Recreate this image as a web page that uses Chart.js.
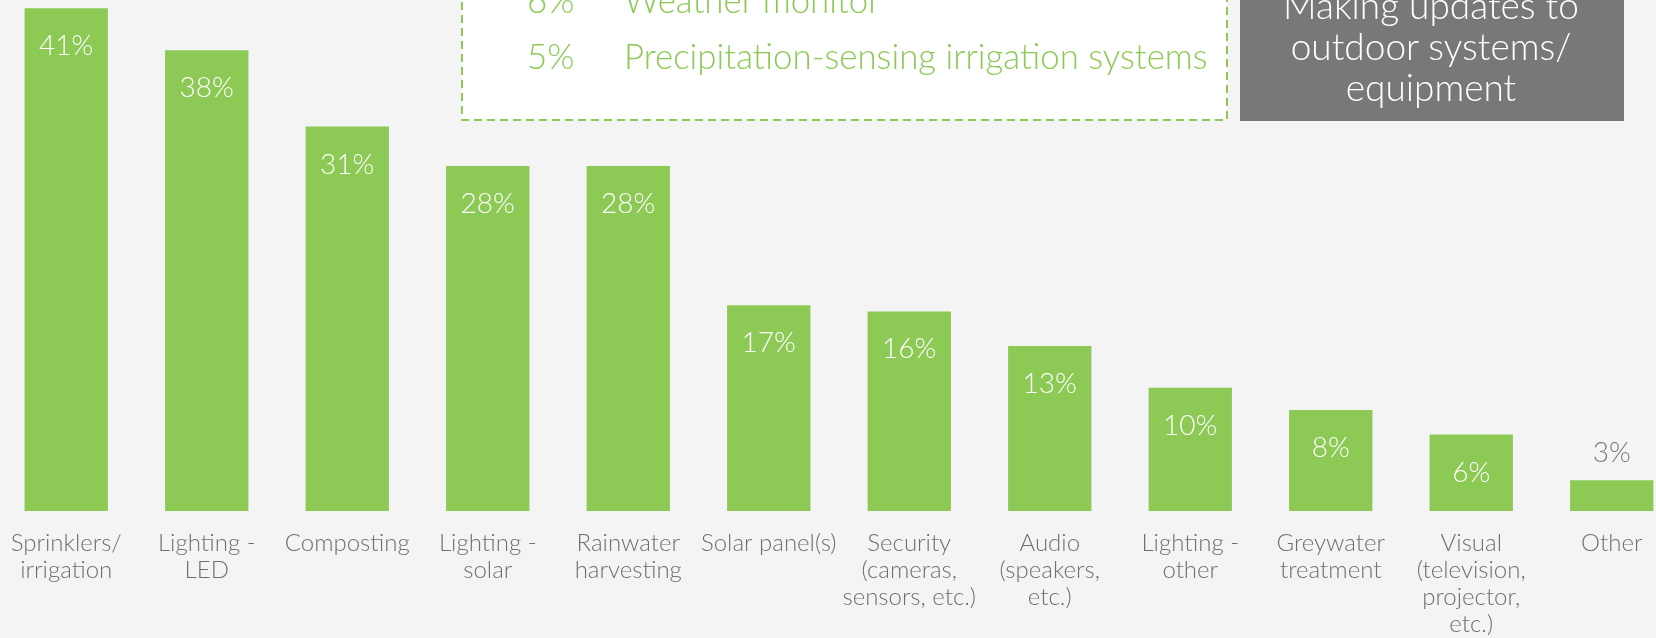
<!DOCTYPE html>
<html>
<head>
<meta charset="utf-8">
<script src="https://cdn.jsdelivr.net/npm/chart.js@4"></script>
<style>
  html, body { margin: 0; padding: 0; background: #f4f4f4; overflow: hidden; }
  body { width: 1656px; height: 638px; position: relative; }
  #wrap { position: absolute; left: -4px; top: 0; width: 1686px; height: 638px; }
  #notes { position: absolute; left: 0; top: 0; width: 1656px; height: 638px; pointer-events: none; }
  #notes text { font-family: Lato, "Open Sans", sans-serif; font-weight: 300; }
</style>
</head>
<body>
<div id="wrap"><canvas id="chart"></canvas></div>

<!-- callouts at the top, partly cut off by the frame -->
<svg id="notes" width="1656" height="638">
  <rect x="462" y="-60" width="765" height="180" fill="#ffffff" stroke="#8cc955" stroke-width="2" stroke-dasharray="8 5"/>
  <text x="527" y="13" font-size="34.8" fill="#8cc955">6%</text>
  <text x="624" y="13" font-size="34.8" fill="#8cc955">Weather monitor</text>
  <text x="527" y="69" font-size="34.8" fill="#8cc955">5%</text>
  <text x="624" y="69" font-size="34.8" fill="#8cc955">Precipitation-sensing irrigation systems</text>

  <rect x="1240" y="-60" width="384" height="181" fill="#787878"/>
  <text x="1431" y="19" font-size="37" fill="#ffffff" text-anchor="middle">Making updates to</text>
  <text x="1431" y="60" font-size="37" fill="#ffffff" text-anchor="middle">outdoor systems/</text>
  <text x="1431" y="101" font-size="37" fill="#ffffff" text-anchor="middle">equipment</text>
</svg>

<script>
// categories (multi-line labels as drawn under the bars)
const categories = [
  ['Sprinklers/', 'irrigation'],
  ['Lighting -', 'LED'],
  ['Composting'],
  ['Lighting -', 'solar'],
  ['Rainwater', 'harvesting'],
  ['Solar panel(s)'],
  ['Security', '(cameras,', 'sensors, etc.)'],
  ['Audio', '(speakers,', 'etc.)'],
  ['Lighting -', 'other'],
  ['Greywater', 'treatment'],
  ['Visual', '(television,', 'projector,', 'etc.)'],
  ['Other']
];

// bar heights (percent)
const shares = [40.8, 37.4, 31.2, 28.0, 28.0, 16.7, 16.2, 13.4, 10.0, 8.2, 6.2, 2.5];

// printed value labels
const shareLabels = ['41%', '38%', '31%', '28%', '28%', '17%', '16%', '13%', '10%', '8%', '6%', '3%'];

const GREEN = '#8cc955';
const PLOT_BOTTOM = 511;

// value labels: inside the bar near its top, or above it when the bar is short
const barLabels = {
  id: 'barLabels',
  afterDatasetsDraw(chart) {
    const ctx = chart.ctx;
    const meta = chart.getDatasetMeta(0);
    ctx.save();
    ctx.font = '300 28px Lato, "Open Sans", sans-serif';
    ctx.textAlign = 'center';
    ctx.textBaseline = 'middle';
    meta.data.forEach((bar, i) => {
      const h = bar.base - bar.y;
      if (h > 60) {
        ctx.fillStyle = '#ffffff';
        ctx.fillText(shareLabels[i], bar.x, bar.y + 38);
      } else {
        ctx.fillStyle = '#7a7a7a';
        ctx.fillText(shareLabels[i], bar.x, bar.y - 27);
      }
    });
    ctx.restore();
  }
};

new Chart(document.getElementById('chart'), {
  type: 'bar',
  data: {
    labels: categories,
    datasets: [{
      data: shares,
      backgroundColor: GREEN,
      borderWidth: 0,
      barPercentage: 0.593,
      categoryPercentage: 1
    }]
  },
  options: {
    responsive: true,
    maintainAspectRatio: false,
    animation: false,
    layout: { padding: 0 },
    plugins: {
      legend: { display: false },
      tooltip: { enabled: false }
    },
    scales: {
      x: {
        grid: { display: false, drawTicks: false },
        border: { display: false },
        ticks: {
          color: '#6f6f6f',
          font: { family: 'Lato, "Open Sans", sans-serif', weight: 300, size: 24, lineHeight: '27px' },
          padding: 19,
          maxRotation: 0,
          autoSkip: false
        },
        afterFit(scale) {
          // full-bleed: no extra room for the edge labels
          scale.height = 638 - PLOT_BOTTOM;
          scale.paddingLeft = 0;
          scale.paddingRight = 0;
        }
      },
      y: {
        display: false,
        min: 0,
        max: PLOT_BOTTOM / 12.32
      }
    }
  },
  plugins: [barLabels]
});
</script>
</body>
</html>
